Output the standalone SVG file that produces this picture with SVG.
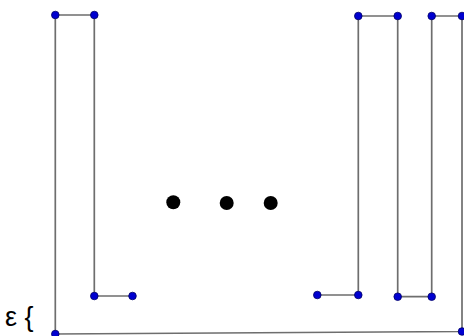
<svg xmlns="http://www.w3.org/2000/svg" width="464" height="336" viewBox="0 0 464 336">
<style>
.ln{stroke:#6e6e6e;stroke-width:1.7;fill:none}
.pt{fill:#0000d0;stroke:#000066;stroke-width:0.8}
.dot{fill:#000}
.lbl{font-family:"Liberation Sans",Arial,sans-serif;font-size:27px;fill:#000}
</style>
<rect width="464" height="336" fill="#fff"/>
<g id="connectors">
<polyline class="ln" points="132.5,296 94.3,296 94.3,15 55.3,15 55.3,334 462,331.5 462,16 431.7,16 431.7,296.7 397.7,296.7 397.7,16 358.3,16 358.3,295 317.3,295"/>
</g>
<g id="points">
<circle class="pt" cx="55.3" cy="15" r="3.8"/>
<circle class="pt" cx="94.3" cy="15" r="3.8"/>
<circle class="pt" cx="94.3" cy="296" r="3.8"/>
<circle class="pt" cx="132.5" cy="296" r="3.8"/>
<circle class="pt" cx="55.3" cy="334" r="3.8"/>
<circle class="pt" cx="358.3" cy="16" r="3.8"/>
<circle class="pt" cx="397.7" cy="16" r="3.8"/>
<circle class="pt" cx="431.7" cy="16" r="3.8"/>
<circle class="pt" cx="462" cy="16" r="3.8"/>
<circle class="pt" cx="317.3" cy="295" r="3.8"/>
<circle class="pt" cx="358.3" cy="295" r="3.8"/>
<circle class="pt" cx="397.7" cy="296.7" r="3.8"/>
<circle class="pt" cx="431.7" cy="296.7" r="3.8"/>
<circle class="pt" cx="462" cy="331.5" r="3.8"/>
</g>
<g id="ellipsis">
<circle class="dot" cx="173.3" cy="202.3" r="7"/>
<circle class="dot" cx="226.7" cy="203" r="7"/>
<circle class="dot" cx="270.7" cy="203" r="7"/>
</g>
<g id="label">
<text class="lbl" x="5" y="326">ε {</text>
</g>
</svg>
